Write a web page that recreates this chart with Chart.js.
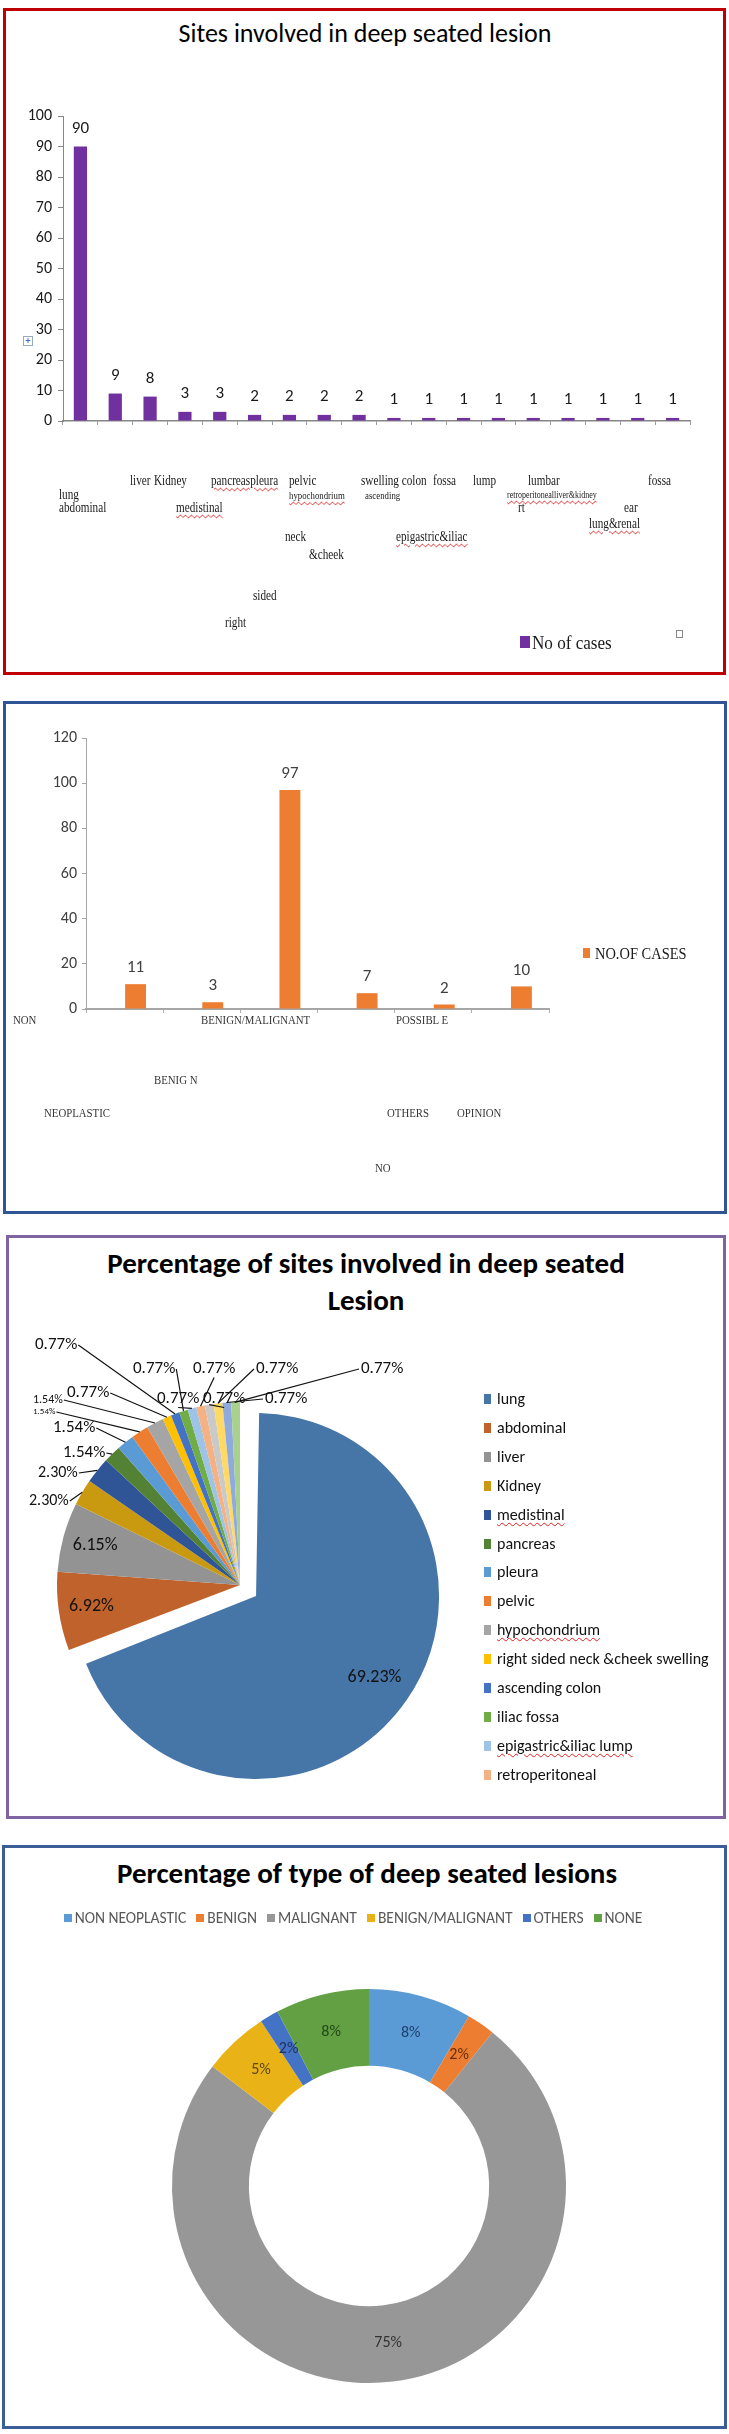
<!DOCTYPE html>
<html>
<head>
<meta charset="utf-8">
<title>Deep seated lesions</title>
<script src="https://cdn.jsdelivr.net/npm/chart.js@4.4.1/dist/chart.umd.min.js"></script>
<style>
	body { margin: 0; background: #fff; }
	#page { position: relative; width: 729px; height: 2434px; overflow: hidden; font-family: Carlito, Lato, sans-serif; }
	.frame { position: absolute; box-sizing: border-box; }
	canvas { position: absolute; left: 0; }
	.txt { position: absolute; white-space: nowrap; line-height: 1; transform-origin: 0 50%; }
	.serif { font-family: "Liberation Serif", "DejaVu Serif", serif; color: #1a1a1a; }
	.wavy { text-decoration: underline wavy #e02020; text-decoration-thickness: 1px; text-underline-offset: 2px; }
	.title { position: absolute; white-space: nowrap; line-height: 1; color: #000; transform: translate(-50%, -50%); }
	.box { position: absolute; }
</style>
</head>
<body>
<div id="page">
	<div class="frame" style="left:3px;top:8px;width:723px;height:667px;border:3px solid #c00000"></div>
	<div class="frame" style="left:3px;top:701px;width:724px;height:513px;border:3px solid #2f5597"></div>
	<div class="frame" style="left:6px;top:1235px;width:720px;height:584px;border:3px solid #8064a2"></div>
	<div class="frame" style="left:2px;top:1845px;width:725px;height:584px;border:3px solid #3b5e99"></div>
</div>
<script>
"use strict";

var FONT_SANS = "Carlito, Lato, sans-serif";

// Sites involved in deep seated lesion
var siteLabels = ["lung", "abdominal", "liver", "Kidney", "medistinal", "pancreas", "pleura", "pelvic", "hypochondrium",
	"right sided neck &cheek swelling", "ascending colon", "iliac fossa", "epigastric&iliac lump", "retroperitoneal",
	"rt lumbar", "liver&kidney", "lung&renal", "ear"];
var siteCases = [90, 9, 8, 3, 3, 2, 2, 2, 2, 1, 1, 1, 1, 1, 1, 1, 1, 1];
var sitePercentText = ["69.23%", "6.92%", "6.15%", "2.30%", "2.30%", "1.54%", "1.54%", "1.54%", "1.54%",
	"0.77%", "0.77%", "0.77%", "0.77%", "0.77%", "0.77%", "0.77%", "0.77%", "0.77%"];
var siteColors = ["#4675a8", "#c0622b", "#939393", "#c99a0f", "#2f5597", "#548235", "#5b9bd5", "#ed7d31", "#a5a5a5",
	"#ffc000", "#4472c4", "#70ad47", "#9dc3e6", "#f4b183", "#c9c9c9", "#ffd966", "#8faadc", "#a9d18e"];
// the category axis of the bar chart prints as scattered word pieces
var siteTickWords = ["lung", "abdominal", "liver", "Kidney", "medistinal", "pancreaspleura", "pelvic", "hypochondrium",
	"right", "sided", "neck", "&cheek", "swelling colon", "ascending", "fossa", "epigastric&iliac", "lump", "lumbar",
	"retroperitonealliver&kidney", "rt", "lung&renal", "ear", "fossa"];
var siteLegendCount = 14;
var siteMax = 100;
var siteStep = 10;

// Type of deep seated lesion
var typeBarLabels = ["NON NEOPLASTIC", "BENIGN", "MALIGNANT", "POSSIBLE BENIGN/MALIGNANT", "OTHERS", "NO OPINION"];
var typeLegendLabels = ["NON NEOPLASTIC", "BENIGN", "MALIGNANT", "BENIGN/MALIGNANT", "OTHERS", "NONE"];
var typeCases = [11, 3, 97, 7, 2, 10];
var typeTickWords = ["NON", "BENIGN/MALIGNANT", "POSSIBL E", "BENIG N", "NEOPLASTIC", "OTHERS", "OPINION", "NO"];
var typeMax = 120;
var typeStep = 20;
var typeColors = ["#5b9bd5", "#ed7d31", "#979797", "#e9b317", "#4472c4", "#62a043"];
var typeTextColors = ["#1f3f6e", "#6a2e08", "#333333", "#5c4500", "#1c2f5e", "#23461a"];

// layout of loose text pieces: [x, y, size, wavy]
var siteTickSpots = [[59, 495, 14], [59, 508, 14], [130, 481, 14], [154, 481, 14], [176, 508, 14, 1], [211, 481, 14, 1],
	[289, 481, 14], [289, 495, 11, 1], [225, 623, 14], [253, 596, 14], [285, 537, 14], [309, 555, 14], [361, 481, 14],
	[365, 495, 11], [433, 481, 14], [396, 537, 14, 1], [473, 481, 14], [528, 481, 14], [507, 495, 10, 1], [518, 508, 14],
	[589, 524, 14, 1], [624, 508, 14], [648, 481, 14]];
var typeTickSpots = [[13, 1020], [201, 1020], [396, 1020], [154, 1080], [44, 1113], [387, 1113], [457, 1113], [375, 1168]];
// pie label placement, canvas coords: inside = fraction of radius, else [x, y, size]
var pieLabelSpots = [{ inside: 0.88 }, { inside: 0.82 }, { inside: 0.82 },
	[29, 266, 16], [38, 238, 16], [63, 218, 17], [53, 193, 17], [33, 177, 9], [33, 165, 12],
	[67, 158, 17], [35, 110, 17], [133, 134, 17], [157, 164, 17], [193, 134, 17], [203, 164, 17],
	[256, 134, 17], [265, 164, 17], [361, 134, 17]];

var page = document.getElementById("page");

function addText(text, x, y, cls, css) {
	var el = document.createElement("div");
	el.className = cls;
	el.textContent = text;
	el.style.left = x + "px";
	el.style.top = y + "px";
	Object.assign(el.style, css || {});
	page.appendChild(el);
	return el;
}

function addBox(x, y, w, h, color) {
	var el = document.createElement("div");
	el.className = "box";
	Object.assign(el.style, { left: x + "px", top: y + "px", width: w + "px", height: h + "px", background: color });
	page.appendChild(el);
	return el;
}

function addCanvas(top, height) {
	var c = document.createElement("canvas");
	c.width = 729;
	c.height = height;
	c.style.top = top + "px";
	page.appendChild(c);
	return c;
}

// value above each bar of one dataset
var barValues = {
	id: "barValues",
	afterDatasetsDraw: function (chart, args, opts) {
		var ctx = chart.ctx;
		var meta = chart.getDatasetMeta(opts.datasetIndex);
		var values = chart.data.datasets[opts.datasetIndex].data;
		ctx.save();
		ctx.font = opts.font;
		ctx.fillStyle = opts.color;
		ctx.textAlign = "center";
		ctx.textBaseline = "middle";
		meta.data.forEach(function (bar, i) {
			ctx.fillText(values[i], bar.x, bar.y - opts.gap);
		});
		ctx.restore();
	},
};

// exploded slice keeps the same radius as the rest
var keepRadius = {
	id: "keepRadius",
	afterUpdate: function (chart) {
		chart.getDatasetMeta(0).data.forEach(function (arc) {
			arc.outerRadius -= (arc.options.offset || 0) / 4;
		});
	},
};

var pieCallouts = {
	id: "pieCallouts",
	afterDatasetsDraw: function (chart, args, opts) {
		var ctx = chart.ctx;
		var arcs = chart.getDatasetMeta(0).data;
		ctx.save();
		ctx.textBaseline = "middle";
		ctx.fillStyle = "#111";
		ctx.strokeStyle = "#111";
		ctx.lineWidth = 1.2;
		arcs.forEach(function (arc, i) {
			var mid = (arc.startAngle + arc.endAngle) / 2;
			var shift = (arc.options.offset || 0) / 4;
			var cx = arc.x + Math.cos(mid) * shift;
			var cy = arc.y + Math.sin(mid) * shift;
			var r = arc.outerRadius;
			var text = opts.texts[i];
			var spot = opts.spots[i];
			if (spot.inside) {
				ctx.font = "18px " + FONT_SANS;
				ctx.textAlign = "center";
				ctx.fillText(text, cx + Math.cos(mid) * r * spot.inside, cy + Math.sin(mid) * r * spot.inside);
				return;
			}
			ctx.font = spot[2] + "px " + FONT_SANS;
			ctx.textAlign = "left";
			var w = ctx.measureText(text).width;
			ctx.fillText(text, spot[0], spot[1]);
			var px = cx + Math.cos(mid) * r;
			var py = cy + Math.sin(mid) * r;
			var sx = spot[0] + w + 1;
			var sy = spot[1];
			if (spot[0] > px) {
				sx = spot[0] - 2;
			} else if (spot[0] + w > px) {
				sx = spot[0] + w / 2;
				sy = spot[1] + spot[2] / 2;
			}
			ctx.beginPath();
			ctx.moveTo(sx, sy);
			ctx.lineTo(px, py);
			ctx.stroke();
		});
		ctx.restore();
	},
};

var ringLabels = {
	id: "ringLabels",
	afterDatasetsDraw: function (chart, args, opts) {
		var ctx = chart.ctx;
		var arcs = chart.getDatasetMeta(0).data;
		var values = chart.data.datasets[0].data;
		var total = values.reduce(function (a, b) { return a + b; }, 0);
		ctx.save();
		ctx.font = "16px " + FONT_SANS;
		ctx.textAlign = "center";
		ctx.textBaseline = "middle";
		arcs.forEach(function (arc, i) {
			var mid = (arc.startAngle + arc.endAngle) / 2;
			var r = (arc.innerRadius + arc.outerRadius) / 2;
			ctx.fillStyle = opts.colors[i];
			ctx.fillText(Math.round(values[i] / total * 100) + "%", arc.x + Math.cos(mid) * r, arc.y + Math.sin(mid) * r);
		});
		ctx.restore();
	},
};

// Initialize Sites Bar
function initSitesBar() {
	addText("Sites involved in deep seated lesion", 365, 33, "title", { fontSize: "26px" });
	var canvas = addCanvas(0, 680);
	new Chart(canvas, {
		type: "bar",
		data: {
			labels: siteLabels,
			datasets: [
				{
					label: "No of cases",
					data: siteCases,
					backgroundColor: "#7030a0",
					categoryPercentage: 1,
					barPercentage: 0.38,
				},
			],
		},
		options: {
			responsive: false,
			animation: false,
			layout: { padding: { left: 23, right: 39, top: 116, bottom: 249 } },
			plugins: {
				legend: { display: false },
				tooltip: { enabled: false },
				barValues: { datasetIndex: 0, font: "17px " + FONT_SANS, color: "#1a1a1a", gap: 18 },
			},
			scales: {
				x: {
					afterFit: function (s) { s.height = 10; },
					ticks: { display: false },
					grid: { drawOnChartArea: false, tickLength: 4, color: "#9a9a9a" },
					border: { color: "#868686", width: 1.5 },
				},
				y: {
					min: 0,
					max: siteMax,
					afterFit: function (s) { s.width = 40; },
					ticks: { stepSize: siteStep, color: "#1a1a1a", padding: 6, font: { size: 16, family: FONT_SANS } },
					grid: { drawOnChartArea: false, tickLength: 5, color: "#868686" },
					border: { color: "#868686" },
				},
			},
		},
		plugins: [barValues],
	});

	siteTickWords.forEach(function (word, i) {
		var s = siteTickSpots[i];
		addText(word, s[0], s[1], "txt serif" + (s[3] ? " wavy" : ""), {
			fontSize: s[2] + "px",
			transform: "translateY(-50%) scaleX(0.8)",
		});
	});
	addBox(520, 636, 10, 12, "#7030a0");
	addText("No of cases", 532, 642, "txt serif", { fontSize: "19px", transform: "translateY(-50%) scaleX(0.9)" });
	var mark = addBox(676, 630, 5, 6, "#fff");
	mark.style.border = "1px solid #888";
	var move = addText("+", 23, 336, "txt", { fontSize: "10px", color: "#3a6fc4", border: "1px solid #9ab", width: "8px", height: "8px", textAlign: "center", lineHeight: "8px" });
	move.style.fontWeight = "bold";
}

// Initialize Types Bar
function initTypesBar() {
	var canvas = addCanvas(700, 515);
	new Chart(canvas, {
		type: "bar",
		data: {
			labels: typeBarLabels,
			datasets: [
				{
					label: "",
					data: [],
					backgroundColor: "#4472c4",
					categoryPercentage: 0.57,
					barPercentage: 0.95,
				},
				{
					label: "NO.OF CASES",
					data: typeCases,
					backgroundColor: "#ed7d31",
					categoryPercentage: 0.57,
					barPercentage: 0.95,
				},
			],
		},
		options: {
			responsive: false,
			animation: false,
			layout: { padding: { left: 26, right: 180, top: 38, bottom: 198 } },
			plugins: {
				legend: { display: false },
				tooltip: { enabled: false },
				barValues: { datasetIndex: 1, font: "17px " + FONT_SANS, color: "#404040", gap: 16 },
			},
			scales: {
				x: {
					afterFit: function (s) { s.height = 8; },
					ticks: { display: false },
					grid: { drawOnChartArea: false, tickLength: 4, color: "#b0b0b0" },
					border: { color: "#a6a6a6", width: 2 },
				},
				y: {
					min: 0,
					max: typeMax,
					afterFit: function (s) { s.width = 60; },
					ticks: { stepSize: typeStep, color: "#404040", padding: 5, font: { size: 16, family: FONT_SANS } },
					grid: { drawOnChartArea: false, tickLength: 4, color: "#a6a6a6" },
					border: { color: "#a6a6a6" },
				},
			},
		},
		plugins: [barValues],
	});

	typeTickWords.forEach(function (word, i) {
		var s = typeTickSpots[i];
		addText(word, s[0], s[1], "txt serif", { fontSize: "12px", color: "#333", transform: "translateY(-50%) scaleX(0.9)" });
	});
	addBox(583, 948, 7, 10, "#ed7d31");
	addText("NO.OF CASES", 595, 953, "txt serif", { fontSize: "17px", transform: "translateY(-50%) scaleX(0.85)" });
}

// Initialize Sites Pie
function initSitesPie() {
	addText("Percentage of sites involved in deep seated", 366, 1263, "title", { fontSize: "29px", fontWeight: "bold" });
	addText("Lesion", 366, 1300, "title", { fontSize: "29px", fontWeight: "bold" });
	var canvas = addCanvas(1235, 585);
	new Chart(canvas, {
		type: "pie",
		data: {
			labels: siteLabels,
			datasets: [
				{
					data: siteCases,
					backgroundColor: siteColors,
					borderWidth: 0,
					offset: function (ctx) { return ctx.dataIndex === 0 ? 78 : 0; },
				},
			],
		},
		options: {
			responsive: false,
			animation: false,
			radius: 183,
			layout: { padding: { left: 0, right: 249, top: 150, bottom: 35 } },
			plugins: {
				legend: { display: false },
				tooltip: { enabled: false },
				pieCallouts: { texts: sitePercentText, spots: pieLabelSpots },
			},
		},
		plugins: [keepRadius, pieCallouts],
	});

	siteLabels.slice(0, siteLegendCount).forEach(function (name, i) {
		var y = 1399 + i * 28.9;
		addBox(484, y - 5, 7, 10, siteColors[i]);
		var flagged = name === "medistinal" || name === "hypochondrium" || name === "epigastric&iliac lump";
		addText(name, 497, y, "txt" + (flagged ? " wavy" : ""), {
			fontSize: "16px",
			color: "#111",
			transform: "translateY(-50%)",
		});
	});
}

// Initialize Types Doughnut
function initTypesDoughnut() {
	addText("Percentage of type of deep seated lesions", 367, 1873, "title", { fontSize: "29px", fontWeight: "bold" });
	var canvas = addCanvas(1845, 585);
	new Chart(canvas, {
		type: "doughnut",
		data: {
			labels: typeLegendLabels,
			datasets: [
				{
					data: typeCases,
					backgroundColor: typeColors,
					borderWidth: 0,
				},
			],
		},
		options: {
			responsive: false,
			animation: false,
			radius: 197,
			cutout: 147,
			layout: { padding: { left: 9, right: 0, top: 100, bottom: 3 } },
			plugins: {
				legend: { display: false },
				tooltip: { enabled: false },
				ringLabels: { colors: typeTextColors },
			},
		},
		plugins: [ringLabels],
	});

	var row = document.createElement("div");
	Object.assign(row.style, {
		position: "absolute", left: "0px", top: "1909px", width: "706px", display: "flex",
		justifyContent: "center", gap: "10px", fontSize: "15.5px", color: "#595959", lineHeight: "18px",
	});
	typeLegendLabels.forEach(function (name, i) {
		var item = document.createElement("span");
		item.style.display = "flex";
		item.style.alignItems = "center";
		var sw = document.createElement("span");
		Object.assign(sw.style, { width: "8px", height: "8px", background: typeColors[i], marginRight: "3px" });
		item.appendChild(sw);
		item.appendChild(document.createTextNode(name));
		row.appendChild(item);
	});
	page.appendChild(row);
}

(function () {
	initSitesBar();
	initTypesBar();
	initSitesPie();
	initTypesDoughnut();
})();
</script>
</body>
</html>
